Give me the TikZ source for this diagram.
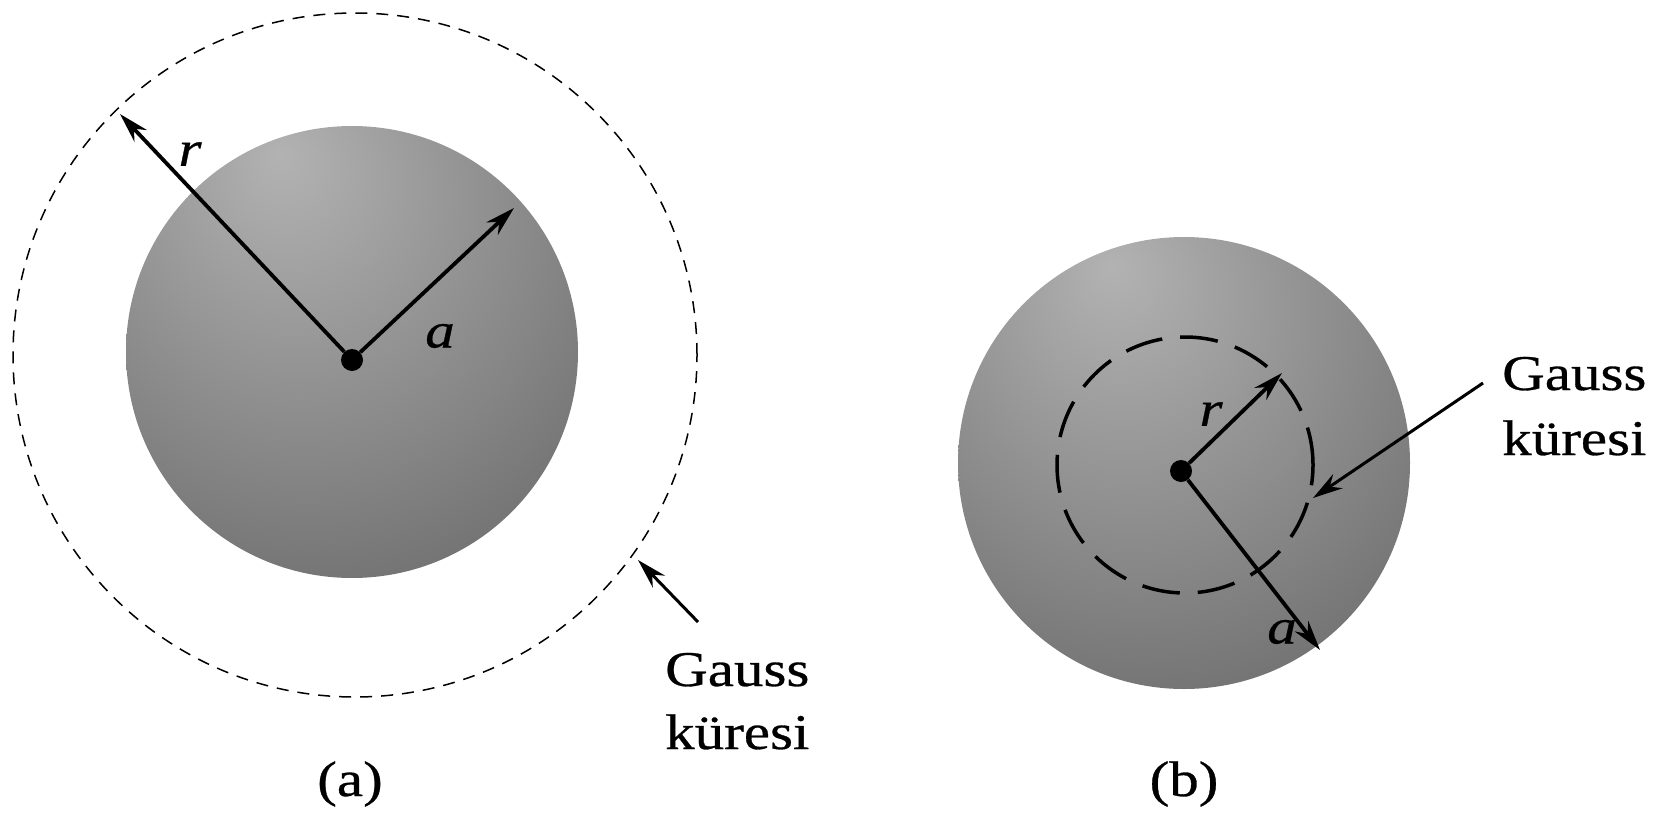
\documentclass[tikz,border=0pt]{standalone}
\usepackage{fontspec}
\setmainfont{Liberation Serif}[FakeStretch=1.18,FakeBold=0.6]
\usetikzlibrary{arrows.meta}
\pgfdeclareradialshading{sph}{\pgfpoint{-8bp}{22bp}}{color(0bp)=(black!30); color(28bp)=(black!48); color(55bp)=(black!66); color(80bp)=(black!72)}
\tikzset{
  lbl/.style={font=\fontsize{50}{60}\selectfont, inner sep=0pt},
  ilbl/.style={font=\fontsize{50}{60}\selectfont\itshape, inner sep=0pt},
  vec/.style={line width=3.8pt, -{Stealth[length=30pt,width=17pt]}},
  dotc/.style={circle, fill=black, minimum size=22pt, inner sep=0pt},
  gaussa/.style={line width=1.5pt, dash pattern=on 12pt off 9pt},
  gaussb/.style={line width=3.5pt, dash pattern=on 38pt off 18pt},
}
\begin{document}
\begin{tikzpicture}[x=1pt,y=-1pt]
\useasboundingbox (0,0) rectangle (1661,816);
% ---------- (a)
\coordinate (sa) at (352,352);
\coordinate (ga) at (355,355);
\shade[shading=sph] (sa) circle[radius=226pt];
\draw[gaussa] (ga) circle[radius=342pt];
\node[dotc] (ca) at (352,360) {};
\coordinate (ra) at (120,114);
\coordinate (aa) at (514,208);
\draw[vec] (ca) -- (ra);
\draw[vec] (ca) -- (aa);
\node[ilbl] (rla) at (190,154) {r};
\node[ilbl] (ala) at (440,336) {a};
\node[lbl, anchor=base west] (g1a) at (665,686) {Gauss};
\node[lbl, anchor=base west] (g2a) at (665,749) {küresi};
\coordinate (gta) at (698,622);
\coordinate (gha) at (638,560);
\draw[vec, line width=3pt] (gta) -- (gha);
\node[lbl] (capa) at (350,784) {(a)};
% ---------- (b)
\coordinate (sb) at (1184,463);
\coordinate (gb) at (1185,465);
\shade[shading=sph] (sb) circle[radius=226pt];
\draw[gaussb] (gb) circle[radius=128pt];
\node[dotc] (cb) at (1181,471) {};
\coordinate (rb) at (1282,373);
\coordinate (ab) at (1320,650);
\draw[vec] (cb) -- (rb);
\draw[vec] (cb) -- (ab);
\node[ilbl] (rlb) at (1211,414) {r};
\node[ilbl] (alb) at (1282,632) {a};
\node[lbl, anchor=base west] (g1b) at (1502,390) {Gauss};
\node[lbl, anchor=base west] (g2b) at (1502,455) {küresi};
\coordinate (gtb) at (1483,383);
\coordinate (ghb) at (1313,498);
\draw[vec, line width=3pt] (gtb) -- (ghb);
\node[lbl] (capb) at (1184,784) {(b)};
\end{tikzpicture}
\end{document}
